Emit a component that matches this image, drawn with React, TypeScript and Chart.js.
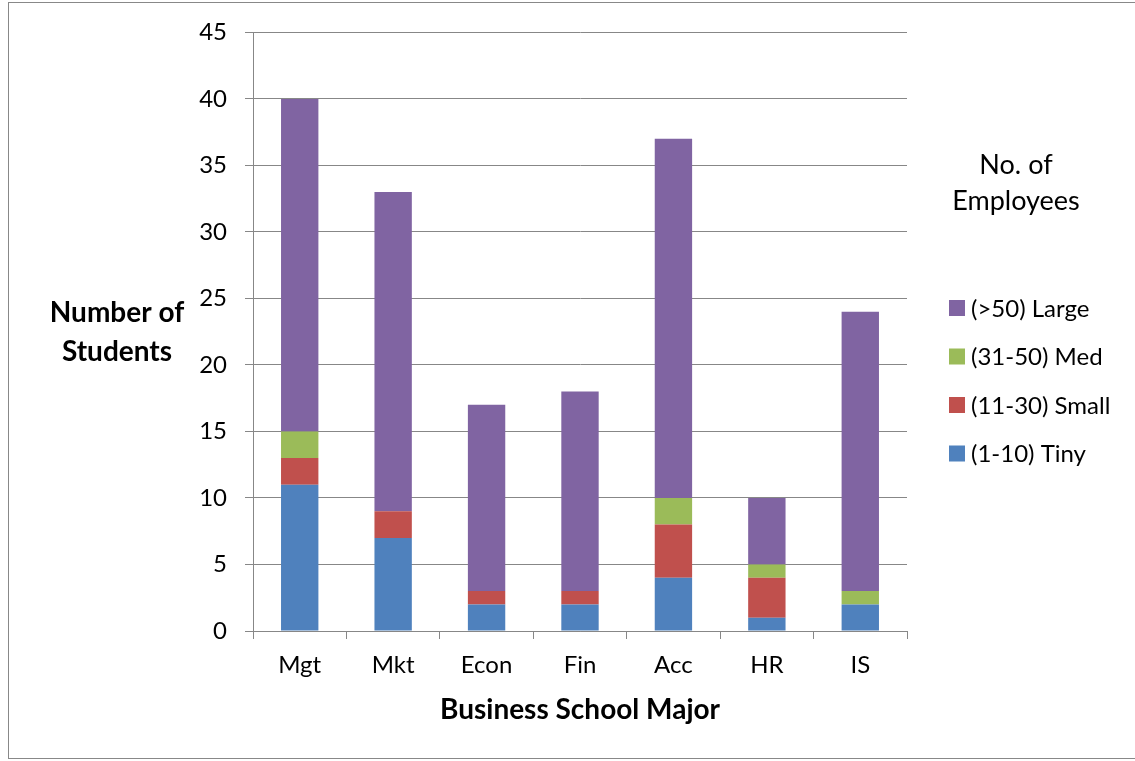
import React, { useEffect, useRef } from "react";
import { Chart, registerables } from "chart.js";

Chart.register(...registerables);

const categories = ["Mgt", "Mkt", "Econ", "Fin", "Acc", "HR", "IS"];
const tiny = [11, 7, 2, 2, 4, 1, 2];
const small = [2, 2, 1, 1, 4, 3, 0];
const med = [2, 0, 0, 0, 2, 1, 1];
const large = [25, 24, 14, 15, 27, 5, 21];
const seriesLabels = ["(1-10) Tiny", "(11-30) Small", "(31-50) Med", "(>50) Large"];
const seriesColors = ["#4F81BD", "#C0504D", "#9BBB59", "#8064A2"];
const yTitle = ["Number of", "Students"];
const xTitle = "Business School Major";
const legendTitle = ["No. of", "Employees"];

const FONT = "Lato, 'Open Sans', sans-serif";
const GRID = "#878787";

const annotPlugin = {
  id: "annot",
  afterDraw(chart: any) {
    const ctx = chart.ctx;
    const area = chart.chartArea;
    ctx.save();
    ctx.fillStyle = "#000";
    ctx.textAlign = "center";
    ctx.textBaseline = "middle";
    // Y axis title
    ctx.font = `bold 28px ${FONT}`;
    ctx.fillText(yTitle[0], 117, 313);
    ctx.fillText(yTitle[1], 117, 352);
    // X axis title
    ctx.fillText(xTitle, (area.left + area.right) / 2, 710);
    // Legend title
    ctx.font = `27px ${FONT}`;
    ctx.fillText(legendTitle[0], 1016, 165);
    ctx.fillText(legendTitle[1], 1016, 201);
    // Legend items (reverse order)
    ctx.font = `24px ${FONT}`;
    ctx.textAlign = "left";
    const ds = chart.data.datasets;
    let y = 308;
    for (let i = ds.length - 1; i >= 0; i--) {
      ctx.fillStyle = ds[i].backgroundColor;
      ctx.fillRect(949, y - 8, 16, 16);
      ctx.fillStyle = "#000";
      ctx.fillText(ds[i].label, 971, y + 1);
      y += 48.5;
    }
    ctx.restore();
  },
};

export default function App() {
  const ref = useRef<HTMLCanvasElement>(null);
  useEffect(() => {
    if (!ref.current) return;
    const values = [tiny, small, med, large];
    const chart = new Chart(ref.current, {
      type: "bar",
      data: {
        labels: categories,
        datasets: values.map((v, i) => ({
          label: seriesLabels[i],
          data: v,
          backgroundColor: seriesColors[i],
          borderWidth: 0,
          barPercentage: 0.4,
          categoryPercentage: 1,
        })),
      },
      options: {
        animation: false,
        responsive: false,
        maintainAspectRatio: false,
        layout: { padding: { left: 0, top: 32, right: 228, bottom: 0 } },
        plugins: { legend: { display: false }, tooltip: { enabled: false }, title: { display: false } },
        scales: {
          x: {
            stacked: true,
            afterFit: (s: any) => { s.height = 130; },
            grid: { offset: true, drawOnChartArea: false, color: GRID, tickLength: 8, tickColor: GRID },
            border: { color: GRID, width: 1 },
            ticks: { color: "#000", font: { family: FONT, size: 24 }, padding: 12 },
          },
          y: {
            stacked: true,
            min: 0,
            max: 45,
            afterFit: (s: any) => { s.width = 253; },
            grid: { color: GRID, tickLength: 8, tickColor: GRID },
            border: { color: GRID, width: 1 },
            ticks: { stepSize: 5, color: "#000", font: { family: FONT, size: 24 }, padding: 18 },
          },
        },
      },
      plugins: [annotPlugin],
    });
    return () => chart.destroy();
  }, []);
  return (
    <div style={{ position: "absolute", left: 0, top: 0, width: 1135, height: 761, background: "#fff" }}>
      <div style={{ position: "absolute", left: 8, top: 2, width: 1140, height: 757, border: "1px solid #888", boxSizing: "border-box" }} />
      <canvas ref={ref} width={1135} height={761} style={{ position: "absolute", left: 0, top: 0 }} />
    </div>
  );
}
